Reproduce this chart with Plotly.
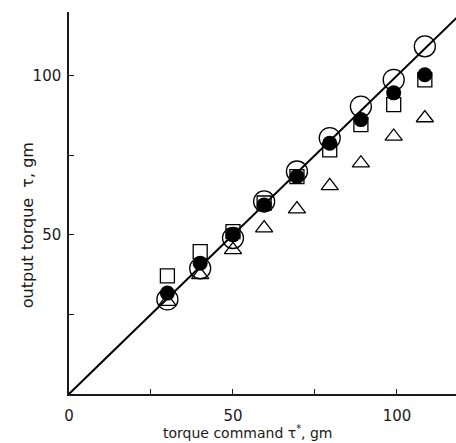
import plotly.graph_objects as go

# Data
torque_command = [30, 40, 50, 59.5, 69.5, 79.5, 89, 99, 108.5]
open_circle = [29.7, 39.5, 49, 60.5, 69.9, 80.4, 90.3, 98.7, 109.2]
filled_circle = [31.7, 41.1, 50, 59.4, 68.3, 78.8, 86.2, 94.6, 100.3]
open_square = [37.1, 44.7, 51, 60, 68.3, 76.7, 84.6, 90.9, 98.7]
open_triangle = [29, 37.4, 45.3, 52.1, 58.1, 65.4, 72.5, 80.9, 86.7]

ideal_x = [0, 120]
ideal_y = [0, 120]

x_tick_vals = [0, 50, 100]
x_tick_text = ["0", "50", "100"]
y_tick_vals = [50, 100]
y_tick_text = ["50", "100"]
minor_tick_vals = [25, 75]

FONT = "DejaVu Sans"
INK = "#1a1a1a"

fig = go.Figure()
fig.add_trace(go.Scatter(x=ideal_x, y=ideal_y, mode="lines",
                         line=dict(color="black", width=2), showlegend=False))
fig.add_trace(go.Scatter(x=torque_command, y=open_square, mode="markers",
                         marker=dict(symbol="square-open", size=14, color="black",
                                     line=dict(width=1.3)), showlegend=False))
fig.add_trace(go.Scatter(x=torque_command, y=open_triangle, mode="markers",
                         marker=dict(symbol="triangle-up-open", size=15, color="black",
                                     line=dict(width=1.3)), showlegend=False))
fig.add_trace(go.Scatter(x=torque_command, y=open_circle, mode="markers",
                         marker=dict(symbol="circle-open", size=21, color="black",
                                     line=dict(width=1.3)), showlegend=False))
fig.add_trace(go.Scatter(x=torque_command, y=filled_circle, mode="markers",
                         marker=dict(symbol="circle", size=15, color="black"),
                         showlegend=False))

axis_common = dict(showgrid=False, zeroline=False,
                   showline=True, linecolor=INK, linewidth=1.5,
                   ticks="inside", ticklen=5, tickwidth=1.2, tickcolor=INK,
                   minor=dict(tickmode="array", tickvals=minor_tick_vals,
                              ticks="inside", ticklen=5, tickwidth=1.2,
                              tickcolor=INK, showgrid=False),
                   tickfont=dict(family=FONT, size=15, color=INK))

fig.update_layout(
    width=456, height=443, autosize=False,
    margin=dict(l=69, r=0, t=12, b=49),
    paper_bgcolor="white", plot_bgcolor="white",
    font=dict(family=FONT, size=15, color=INK),
    xaxis=dict(range=[0, 118], tickmode="array", tickvals=x_tick_vals,
               ticktext=x_tick_text, ticklabelstandoff=7, **axis_common),
    yaxis=dict(range=[0, 120], tickmode="array", tickvals=y_tick_vals,
               ticktext=y_tick_text, ticklabelstandoff=3, **axis_common),
    annotations=[
        dict(text="torque command τ<sup>*</sup>, gm", xref="paper", yref="paper",
             x=0.4625, y=-0.1, xanchor="center", yanchor="middle",
             showarrow=False, font=dict(family=FONT, size=14, color=INK)),
        dict(text="output torque  τ, gm", xref="paper", yref="paper",
             x=-0.1085, y=0.442, xanchor="center", yanchor="middle",
             textangle=-90, showarrow=False,
             font=dict(family=FONT, size=16, color=INK)),
    ],
)

fig.write_html(
    "out.html",
    config={"displayModeBar": False},
    post_script="document.body.style.margin='0';document.body.style.overflow='hidden';",
)
